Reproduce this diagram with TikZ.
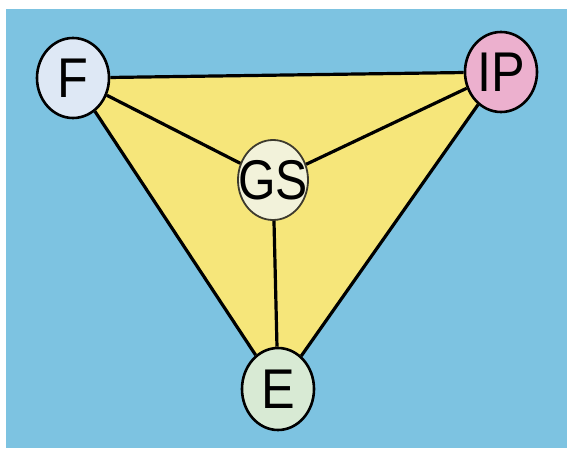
\documentclass[tikz,border=0pt]{standalone}
\usepackage{fontspec}
\setmainfont{Liberation Sans}
\usetikzlibrary{shapes.geometric}
\definecolor{bgblue}{RGB}{125,195,225}
\definecolor{triyellow}{RGB}{246,230,122}
\definecolor{ffill}{RGB}{222,232,245}
\definecolor{ipfill}{RGB}{236,176,206}
\definecolor{gsfill}{RGB}{242,242,218}
\definecolor{efill}{RGB}{216,234,212}
\begin{document}
\begin{tikzpicture}[x=1pt,y=1pt,
  conn/.style={line width=3.2pt, black},
  bubble/.style={ellipse, draw=black, line width=2.6pt, minimum width=72pt, minimum height=80pt, inner sep=0pt,
    font=\fontsize{56}{56}\selectfont}]
\useasboundingbox (0,0) rectangle (567,448);
\fill[white] (0,0) rectangle (567,448);
\fill[bgblue] (6,0) rectangle (567,439);
% node centres
\coordinate (cF) at (73,370);
\coordinate (cIP) at (501,376);
\coordinate (cE) at (278,59);
\fill[triyellow] (cF) -- (cIP) -- (cE) -- cycle;
\node[bubble, fill=ffill] (F) at (cF) {\makebox[0pt]{\scalebox{0.9}[1]{F}}};
\node[bubble, fill=ipfill] (IP) at (cIP) {\makebox[0pt]{\scalebox{0.9}[1]{IP}}};
\node[bubble, fill=gsfill, draw=black!75!olive, line width=1.8pt, minimum width=70pt] (GS) at (273,268) {\makebox[0pt]{\scalebox{0.86}[1]{GS}}};
\node[bubble, fill=efill, minimum height=82pt] (E) at (cE) {\makebox[0pt]{\scalebox{0.9}[1]{E}}};
\draw[conn] (F) -- (IP);
\draw[conn] (F) -- (E);
\draw[conn] (IP) -- (E);
\draw[conn] (GS) -- (F);
\draw[conn] (GS) -- (IP);
\draw[conn] (GS) -- (E);
\end{tikzpicture}
\end{document}
